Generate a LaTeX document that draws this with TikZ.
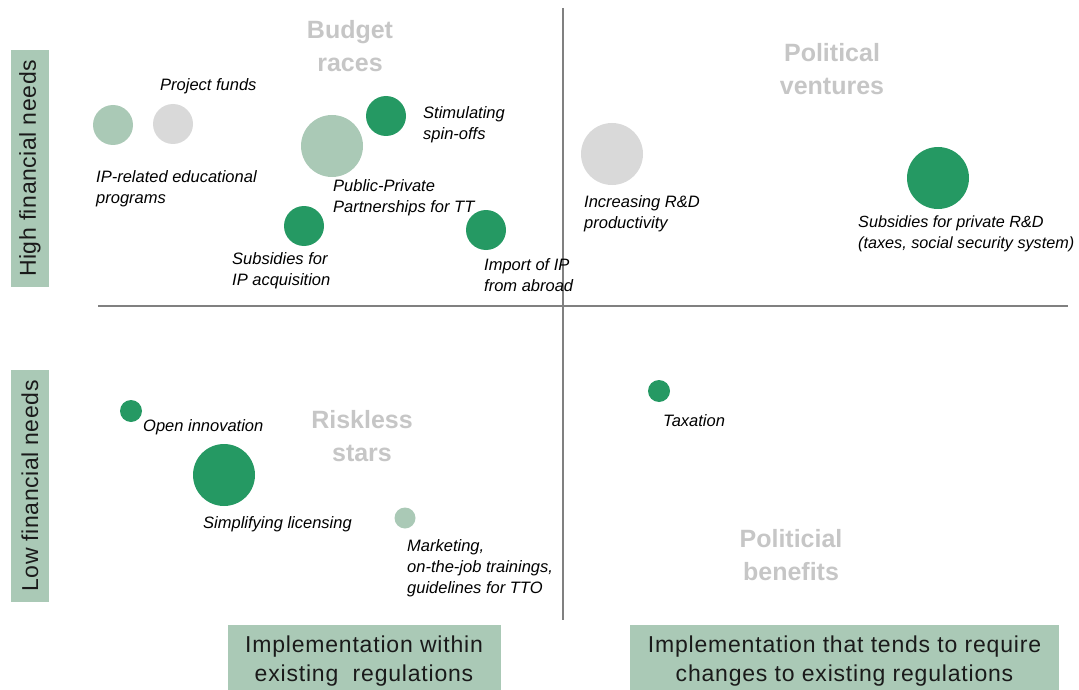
\documentclass[tikz,border=0pt]{standalone}
\usepackage{fontspec}
\setmainfont{Liberation Sans}
\definecolor{dkgreen}{HTML}{259963}
\definecolor{ltgreen}{HTML}{AAC9B6}
\definecolor{ltgray}{HTML}{D9D9D9}
\definecolor{titlegray}{HTML}{C6C6C6}
\definecolor{axisgray}{HTML}{808080}
\definecolor{boxtext}{HTML}{1A1A1A}
\begin{document}
\begin{tikzpicture}[x=1pt,y=-1pt,
  bub/.style={circle,draw=none,inner sep=0pt,minimum size=#1},
  dk/.style={bub=#1,fill=dkgreen},
  lt/.style={bub=#1,fill=ltgreen},
  gr/.style={bub=#1,fill=ltgray},
  lbl/.style={font=\fontsize{16.5}{21}\selectfont\itshape,align=left,anchor=west,inner sep=0pt,text=black},
  ttl/.style={font=\fontsize{25}{33}\selectfont\bfseries,text=titlegray,align=center,inner sep=0pt},
  boxfill/.style={fill=ltgreen,draw=none,inner sep=0pt},
  boxtxt/.style={font=\fontsize{23}{29}\selectfont\addfontfeature{LetterSpace=3.5},text=boxtext,align=center,inner sep=0pt},
  sidetxt/.style={font=\fontsize{23}{29}\selectfont\addfontfeature{LetterSpace=2.5},text=boxtext,align=center,inner sep=0pt,rotate=90},
  axis/.style={draw=axisgray,line width=1.8pt}]
\useasboundingbox (0,0) rectangle (1079,690);

% axes
\coordinate (hl) at (98,306);
\coordinate (hr) at (1068,306);
\coordinate (vt) at (563,8);
\coordinate (vb) at (563,620);
\draw[axis] (hl) -- (hr);
\draw[axis] (vt) -- (vb);

% side and bottom boxes
\node[boxfill,minimum width=38pt,minimum height=237pt] (high) at (30,168.5) {};
\node[sidetxt] (hightxt) at (high.center) {High financial needs};
\node[boxfill,minimum width=38pt,minimum height=232pt] (low) at (30,486) {};
\node[sidetxt] (lowtxt) at (low.center) {Low financial needs};
\node[boxfill,minimum width=273pt,minimum height=65pt] (impl1) at (364,657.5) {};
\node[boxtxt] (impl1txt) at ([yshift=-3.5pt]impl1.center) {Implementation within\\existing\ \ regulations};
\node[boxfill,minimum width=429pt,minimum height=65pt] (impl2) at (844.5,657.5) {};
\node[boxtxt] (impl2txt) at ([yshift=-3.5pt]impl2.center) {Implementation that tends to require\\changes to existing regulations};

% quadrant titles
\node[ttl] (budget) at (350,46) {Budget\\races};
\node[ttl] (political) at (832,69.5) {Political\\ventures};
\node[ttl] (riskless) at (362,436) {Riskless\\stars};
\node[ttl] (benefits) at (791,555.5) {Politicial\\benefits};

% bubbles
\node[lt=40pt] (ipedu) at (113,125) {};
\node[gr=40pt] (projf) at (173,124) {};
\node[lt=62pt] (ppp) at (332,146) {};
\node[dk=40pt] (spin) at (386,116) {};
\node[dk=40pt] (subip) at (304,226) {};
\node[dk=40pt] (import) at (486,230) {};
\node[gr=62pt] (rdprod) at (612,154) {};
\node[dk=62pt] (subrd) at (938,178) {};
\node[dk=22pt] (open) at (131,411) {};
\node[dk=62pt] (simpl) at (224,475) {};
\node[lt=21pt] (market) at (405,518) {};
\node[dk=22pt] (tax) at (659,391) {};

% labels
\node[lbl] (lprojf) at (160,86.5) {Project funds};
\node[lbl] (lipedu) at (96,189) {IP-related educational\\programs};
\node[lbl] (lspin) at (423,125) {Stimulating\\spin-offs};
\node[lbl] (lppp) at (333,198) {Public-Private\\Partnerships for TT};
\node[lbl] (lsubip) at (232,270.5) {Subsidies for\\IP acquisition};
\node[lbl] (limport) at (484,275.5) {Import of IP\\from abroad};
\node[lbl] (lrdprod) at (584,214) {Increasing R\&D\\productivity};
\node[lbl,font=\fontsize{16.2}{21}\selectfont\itshape] (lsubrd) at (858,233.5) {Subsidies for private R\&D\\(taxes, social security system)};
\node[lbl] (lopen) at (143,427.5) {Open innovation};
\node[lbl] (lsimpl) at (203,524.5) {Simplifying licensing};
\node[lbl] (lmarket) at (407,568) {Marketing,\\on-the-job trainings,\\guidelines for TTO};
\node[lbl] (ltax) at (663,420.5) {Taxation};
\end{tikzpicture}
\end{document}
